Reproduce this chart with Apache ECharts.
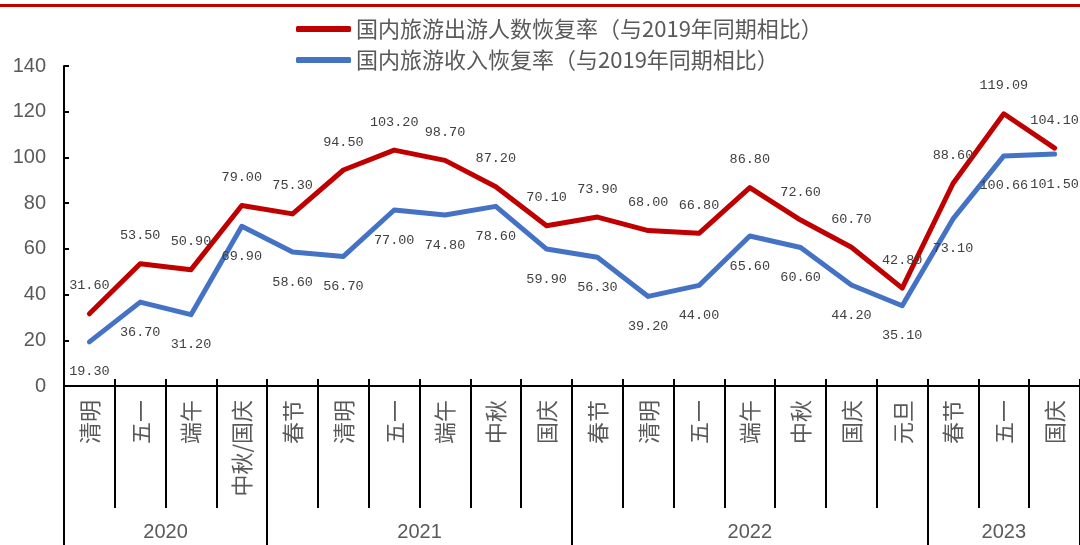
<!DOCTYPE html>
<html>
<head>
<meta charset="utf-8">
<script src="https://cdn.jsdelivr.net/npm/echarts@6/dist/echarts.min.js"></script>
<style>
  html, body { margin: 0; padding: 0; background: #fff; }
  #chart { width: 1080px; height: 545px; }
</style>
</head>
<body>
<div id="chart"></div>
<script>
// Holiday periods along the x axis
const holidays = ['清明', '五一', '端午', '中秋/国庆', '春节', '清明', '五一', '端午', '中秋', '国庆',
  '春节', '清明', '五一', '端午', '中秋', '国庆', '元旦', '春节', '五一', '国庆'];
// Year groups and how many holidays fall in each
const years = ['2020', '2021', '2022', '2023'];
const yearCounts = [4, 6, 7, 3];
// Recovery rates vs. the same period of 2019 (%)
const tripsName = '国内旅游出游人数恢复率（与2019年同期相比）';
const revenueName = '国内旅游收入恢复率（与2019年同期相比）';
const tripsRecovery = [31.6, 53.5, 50.9, 79.0, 75.3, 94.5, 103.2, 98.7, 87.2, 70.1,
  73.9, 68.0, 66.8, 86.8, 72.6, 60.7, 42.8, 88.6, 119.09, 104.1];
const revenueRecovery = [19.3, 36.7, 31.2, 69.9, 58.6, 56.7, 77.0, 74.8, 78.6, 59.9,
  56.3, 39.2, 44.0, 65.6, 60.6, 44.2, 35.1, 73.1, 100.66, 101.5];
// Value axis range
const yMin = 0, yMax = 140, yStep = 20;

// Year separators and label centres, in units of holiday slots
const yearBounds = [0];
yearCounts.forEach(c => yearBounds.push(yearBounds[yearBounds.length - 1] + c));
const yearCenters = years.map((y, i) => (yearBounds[i] + yearBounds[i + 1]) / 2);

const RED = '#C00000';
const BLUE = '#4472C4';
const TEXT = '#595959';
const CJK = '"Noto Sans CJK SC", sans-serif';
const SANS = '"Liberation Sans", Arial, sans-serif';
const MONO = '"Liberation Mono", "DejaVu Sans Mono", monospace';
const slotCount = holidays.length;

function lineSeries(name, data, color, pos, dist, z) {
  return {
    name, type: 'line', data, z,
    symbol: 'circle', symbolSize: 2, showSymbol: true,
    itemStyle: { color },
    lineStyle: { color, width: 5, cap: 'round', join: 'round' },
    label: {
      show: true, position: pos, distance: dist,
      fontSize: 13.5, color: '#404040', fontFamily: MONO,
      formatter: p => p.value.toFixed(2)
    },
    labelLayout: { hideOverlap: false }
  };
}

const chart = echarts.init(document.getElementById('chart'));
chart.setOption({
  animation: false,
  backgroundColor: '#fff',
  graphic: [{
    type: 'rect', z: 100,
    shape: { x: 0, y: 4, width: 1080, height: 3 },
    style: { fill: RED }
  }],
  legend: {
    orient: 'vertical',
    left: 291, top: 13,
    itemWidth: 55, itemHeight: 6, itemGap: 9,
    icon: 'roundRect',
    textStyle: { fontSize: 22, color: TEXT, fontFamily: CJK },
    data: [tripsName, revenueName]
  },
  grid: { left: 64, right: -2, top: 66, bottom: 159, containLabel: false },
  xAxis: [{
    type: 'category',
    data: holidays,
    boundaryGap: true,
    axisLine: { show: true, lineStyle: { color: '#000', width: 2 } },
    axisTick: { show: true, interval: 0, length: 122, lineStyle: { color: '#000', width: 2 } },
    axisLabel: { interval: 0, rotate: 90, margin: 14, fontSize: 22, color: TEXT, fontFamily: CJK },
    splitLine: { show: false }
  }, {
    type: 'value',
    min: 0, max: slotCount,
    position: 'bottom',
    offset: 122,
    axisLine: { show: false },
    axisTick: { show: true, customValues: yearBounds, length: 40, lineStyle: { color: '#000', width: 2 } },
    axisLabel: {
      show: true, customValues: yearCenters, margin: 14, fontSize: 20, color: TEXT, fontFamily: SANS,
      formatter: v => years[yearCenters.indexOf(v)] || ''
    },
    splitLine: { show: false }
  }, {
    type: 'value',
    min: 0, max: slotCount, interval: 1,
    position: 'bottom',
    axisLine: { show: false },
    axisTick: { show: true, inside: true, length: 7, lineStyle: { color: '#000', width: 2 } },
    axisLabel: { show: false },
    splitLine: { show: false }
  }],
  yAxis: {
    type: 'value',
    min: yMin, max: yMax, interval: yStep,
    axisLine: { show: true, lineStyle: { color: '#000', width: 2 } },
    axisTick: { show: true, inside: true, length: 5, lineStyle: { color: '#000', width: 2 } },
    axisLabel: { margin: 18, fontSize: 20, color: TEXT, fontFamily: SANS },
    splitLine: { show: false }
  },
  series: [
    lineSeries(tripsName, tripsRecovery, RED, 'top', 20, 3),
    lineSeries(revenueName, revenueRecovery, BLUE, 'bottom', 22, 2)
  ]
});
</script>
</body>
</html>
